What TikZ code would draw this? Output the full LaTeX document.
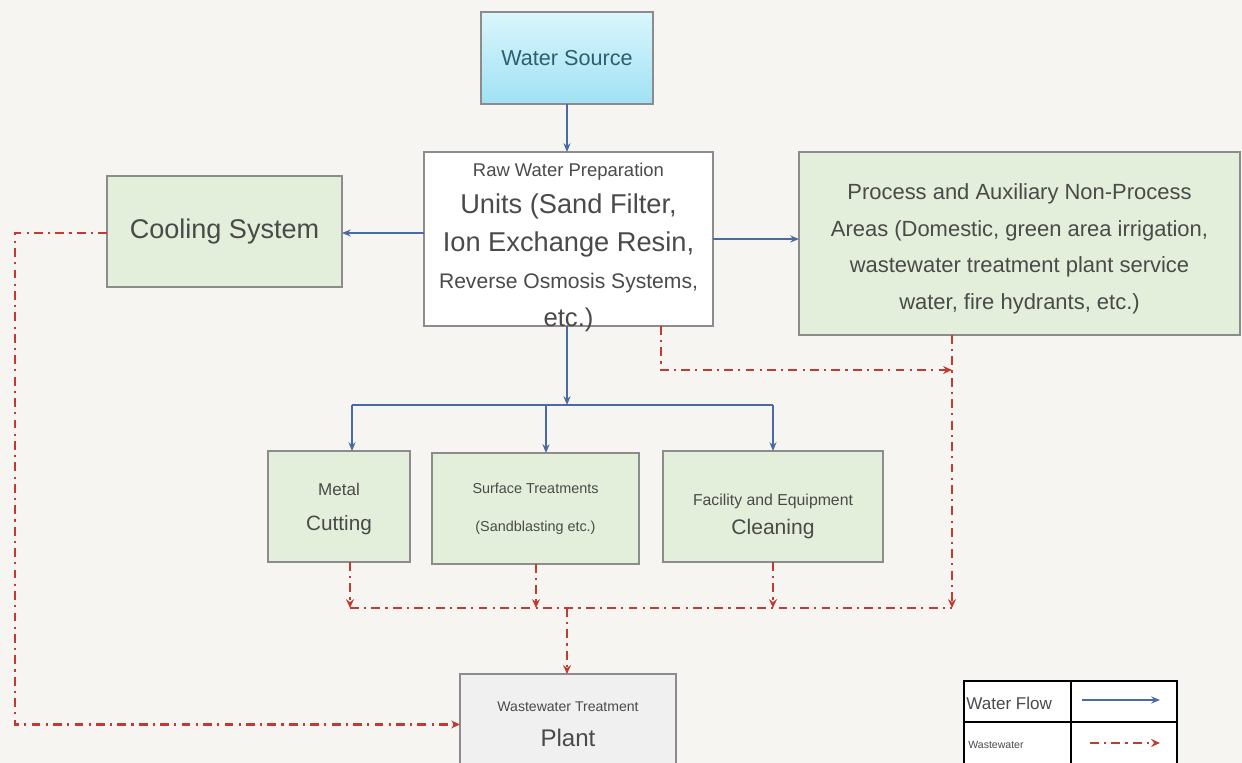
\documentclass[tikz,border=0pt]{standalone}
\usepackage{fontspec}
\setmainfont{Liberation Sans}
\usetikzlibrary{arrows.meta,positioning,calc}
\definecolor{wbg}{HTML}{F6F5F1}
\definecolor{wgreen}{HTML}{E3EFDA}
\definecolor{wedge}{HTML}{8C8C8C}
\definecolor{wtext}{HTML}{4A4A4A}
\definecolor{wblue}{HTML}{4A6AA5}
\definecolor{wred}{HTML}{C23B32}
\definecolor{wcyanA}{HTML}{DAF6FC}
\definecolor{wcyanB}{HTML}{A0E1F4}
\definecolor{wteal}{HTML}{2F5E6C}
\definecolor{wgray}{HTML}{F0F0F0}
\tikzset{
  unit/.style={draw=wedge,line width=0.9pt,inner sep=0pt,outer sep=0pt,align=center,text=wtext},
  greenb/.style={unit,fill=wgreen},
  srcb/.style={unit,top color=wcyanA,bottom color=wcyanB,text=wteal},
  whiteb/.style={unit,fill=white},
  grayb/.style={unit,fill=wgray},
  txt/.style={inner sep=0pt,align=center,text=wtext},
  warr/.style={-{Stealth[length=5pt,width=4pt]},line width=1.2pt,draw=wblue},
  wline/.style={line width=1.2pt,draw=wblue},
  wwarr/.style={-{Stealth[length=5pt,width=4.5pt]},line width=1.3pt,draw=wred,dash pattern=on 5pt off 3pt on 1.2pt off 3pt},
  wwline/.style={line width=1.3pt,draw=wred,dash pattern=on 5pt off 3pt on 1.2pt off 3pt},
  lgd/.style={anchor=west,inner sep=0pt,text=wtext},
}
\begin{document}
\begin{tikzpicture}[x=0.02cm,y=-0.02cm]
  \fill[wbg] (0,0) rectangle (1242,763);
  \useasboundingbox (0,0) rectangle (1242,763);
  % supply side
  \node[srcb,minimum width=3.44cm,minimum height=1.84cm,font=\fontsize{12.3}{15}\selectfont] (src) at (567,58)
    {Water Source};
  \node[whiteb,minimum width=5.78cm,minimum height=3.48cm] (raw) at (568.5,239) {};
  \node[txt,font=\fontsize{15.5}{21.3}\selectfont] (rawtxt) at (raw.center) {%
    \fontsize{10.5}{21.3}\selectfont\rule{0pt}{17pt}Raw Water Preparation\\
    Units (Sand Filter,\\
    Ion Exchange Resin,\\
    \fontsize{12}{21.3}\selectfont Reverse Osmosis Systems,\\
    \fontsize{14.6}{21.3}\selectfont etc.)};
  \node[greenb,minimum width=4.70cm,minimum height=2.22cm,font=\fontsize{15.4}{18}\selectfont] (cool) at (224.5,231.5)
    {Cooling System};
  \node[greenb,minimum width=8.82cm,minimum height=3.66cm,font=\fontsize{12.5}{20.8}\selectfont] (proc) at (1019.5,243.5) {%
    \rule{0pt}{15pt}Process and Auxiliary Non-Process\\
    Areas (Domestic, green area irrigation,\\
    wastewater treatment plant service\\
    water, fire hydrants, etc.)};
  % consumers
  \node[greenb,minimum width=2.84cm,minimum height=2.22cm,font=\fontsize{11.8}{19.8}\selectfont] (metal) at (339,506.5) {%
    \fontsize{9.7}{19.8}\selectfont\rule{0pt}{10pt}Metal\\
    Cutting};
  \node[greenb,minimum width=4.14cm,minimum height=2.22cm,font=\fontsize{8.2}{21.5}\selectfont] (surf) at (535.5,508.5) {%
    Surface Treatments\\
    (Sandblasting etc.)};
  \node[greenb,minimum width=4.40cm,minimum height=2.22cm,font=\fontsize{12}{16.3}\selectfont] (fac) at (773,506.5) {%
    \fontsize{9}{16.3}\selectfont\rule{0pt}{18pt}Facility and Equipment\\
    Cleaning};
  \node[grayb,minimum width=4.32cm,minimum height=2.02cm,font=\fontsize{13.7}{19.8}\selectfont] (wwtp) at (568,724.5) {%
    \fontsize{8}{19.8}\selectfont Wastewater Treatment\\
    Plant};
  % junction points
  \coordinate (bus) at (567,405);
  \coordinate (bl) at (352,405);
  \coordinate (bm) at (546,405);
  \coordinate (br) at (773,405);
  \coordinate (lc) at (15,233);
  \coordinate (rs) at (661,370);
  \coordinate (pd) at (952,608);
  \coordinate (c1) at (350,608);
  \coordinate (c2) at (536,608);
  \coordinate (c3) at (773,608);
  \coordinate (c0) at (567,608);
  % water flow
  \draw[warr] (src.south) -- (src.south |- raw.north);
  \draw[warr] (raw.west |- lc) -- (cool.east |- lc);
  \draw[warr] (raw.east) -- (raw.east -| proc.west);
  \draw[warr] (bus |- raw.south) -- (bus);
  \draw[wline] (bl) -- (br);
  \draw[warr] (bl) -- (bl |- metal.north);
  \draw[warr] (bm) -- (bm |- surf.north);
  \draw[warr] (br) -- (fac.north);
  % wastewater
  \draw[wwarr] (cool.west |- lc) -- (lc) -- (lc |- wwtp.west) -- (wwtp.west);
  \draw[wwarr] (rs |- raw.south) -- (rs) -- (rs -| pd);
  \draw[wwarr] (pd |- proc.south) -- (pd);
  \draw[wwline] (c1) -- (pd);
  \draw[wwarr] (c1 |- metal.south) -- (c1);
  \draw[wwarr] (c2 |- surf.south) -- (c2);
  \draw[wwarr] (fac.south) -- (c3);
  \draw[wwarr] (c0) -- (c0 |- wwtp.north);
  % legend
  \draw[line width=0.9pt,fill=white] (964,681) rectangle (1177,790);
  \draw[line width=0.9pt] (964,722) -- (1177,722) (1071,681) -- (1071,790);
  \node[lgd] (lgw) at (966,703) {\fontsize{9.7}{12}\selectfont Water Flow};
  \node[lgd] (lgr) at (968,745) {\fontsize{6}{8}\selectfont Wastewater};
  \coordinate (lw1) at (1082,700);
  \coordinate (lw2) at (1160,700);
  \coordinate (lr1) at (1090,743);
  \coordinate (lr2) at (1160,743);
  \draw[warr] (lw1) -- (lw2);
  \draw[wwarr] (lr1) -- (lr2);
\end{tikzpicture}
\end{document}
